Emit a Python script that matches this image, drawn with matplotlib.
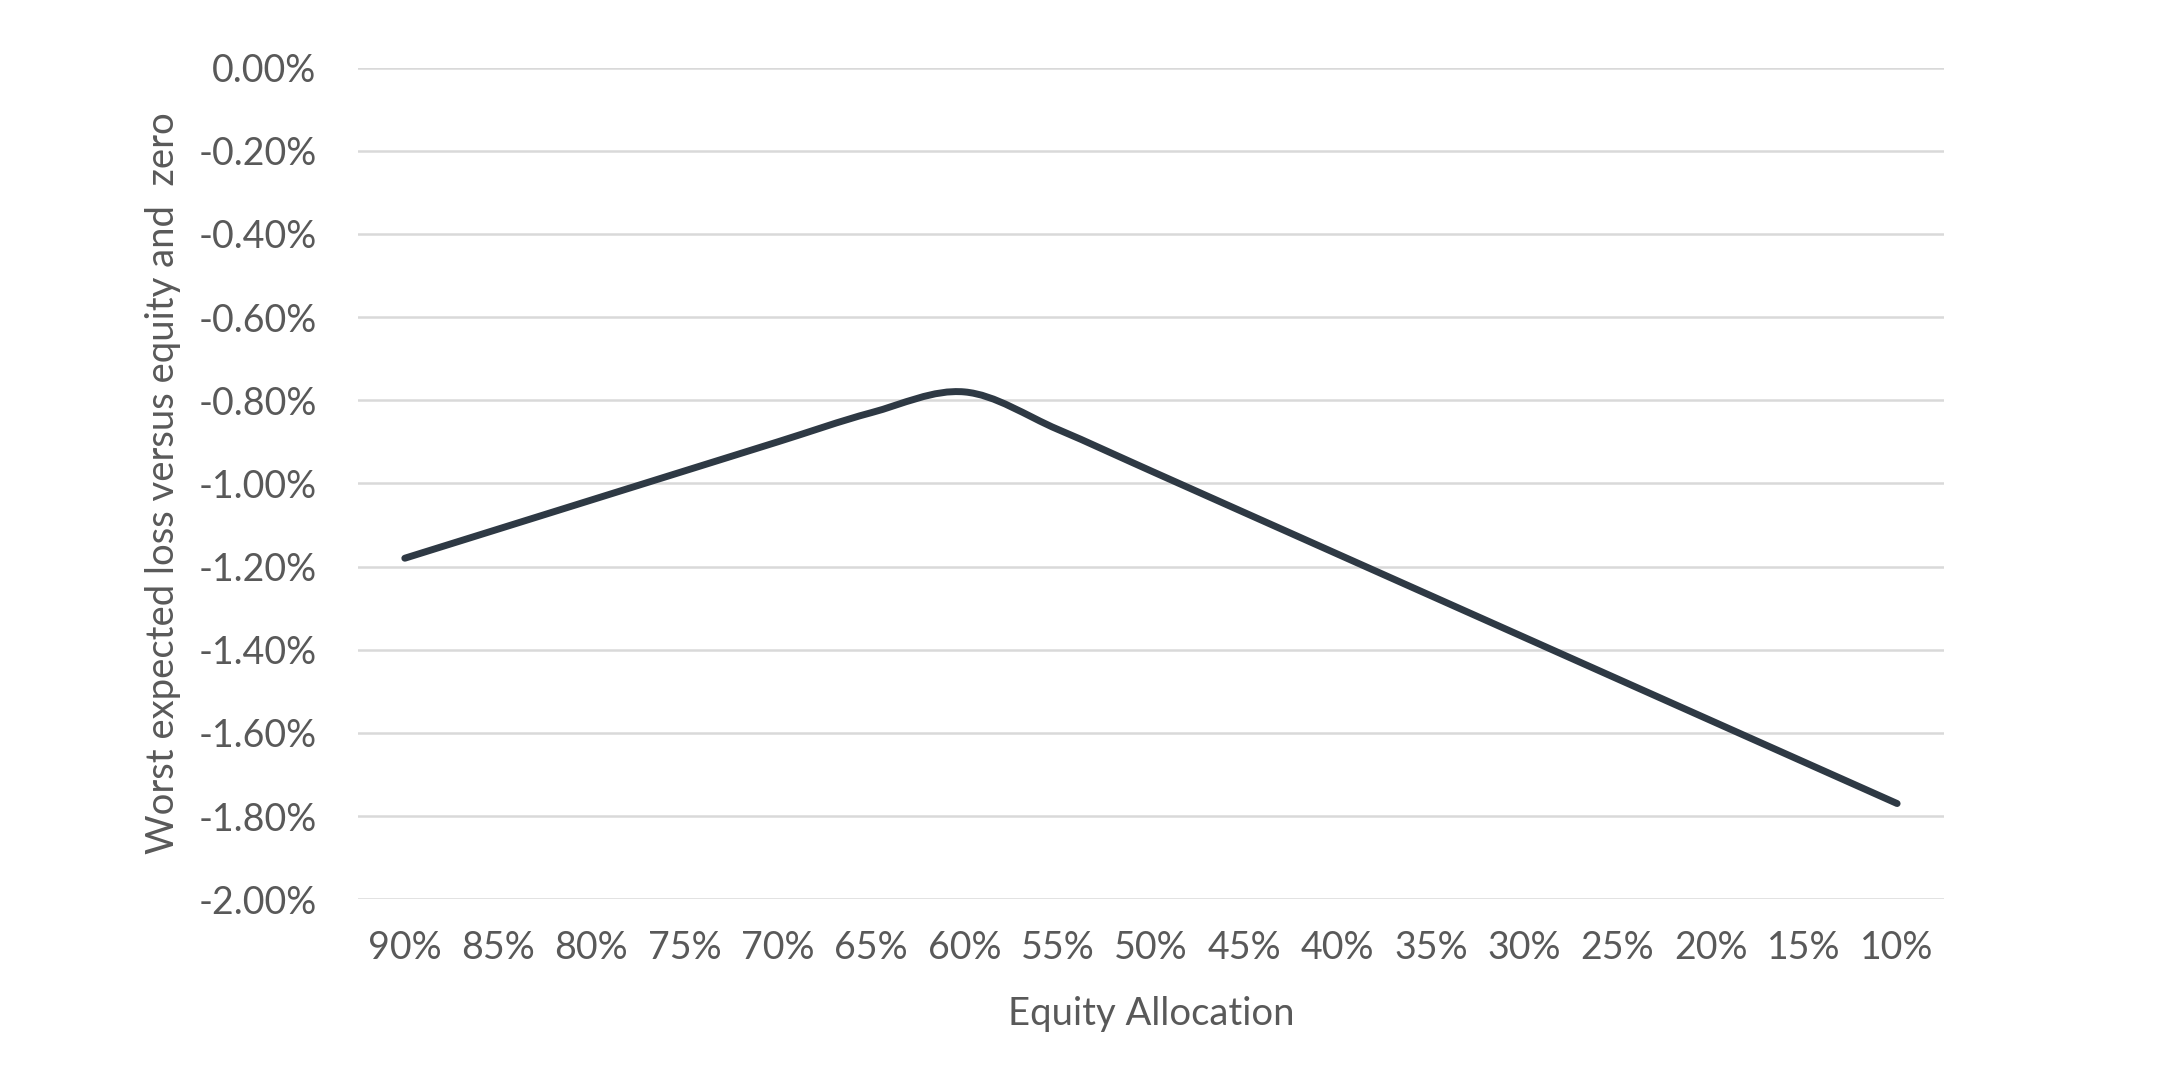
import matplotlib
matplotlib.use("Agg")
import matplotlib.pyplot as plt
from matplotlib.path import Path
from matplotlib.patches import PathPatch
from matplotlib.ticker import FuncFormatter
import numpy as np

# data
equity = ["90%", "85%", "80%", "75%", "70%", "65%", "60%", "55%", "50%",
          "45%", "40%", "35%", "30%", "25%", "20%", "15%", "10%"]
worst_loss = [-1.18, -1.11, -1.04, -0.97, -0.90, -0.83, -0.78, -0.87, -0.97,
              -1.07, -1.17, -1.27, -1.37, -1.47, -1.57, -1.67, -1.77]

TEXT = "#595959"
GRID = "#d9d9d9"
LINE = "#2e3944"

plt.rcParams["font.family"] = ["Lato", "DejaVu Sans"]


def smooth_path(x, y):
    # Excel-style smoothed line: Catmull-Rom segments as cubic Beziers
    x = np.asarray(x, float)
    y = np.asarray(y, float)
    verts = [(x[0], y[0])]
    codes = [Path.MOVETO]
    n = len(x)
    for i in range(n - 1):
        p0 = (x[max(i - 1, 0)], y[max(i - 1, 0)])
        p1 = (x[i], y[i])
        p2 = (x[i + 1], y[i + 1])
        p3 = (x[min(i + 2, n - 1)], y[min(i + 2, n - 1)])
        c1 = (p1[0] + (p2[0] - p0[0]) / 6, p1[1] + (p2[1] - p0[1]) / 6)
        c2 = (p2[0] - (p3[0] - p1[0]) / 6, p2[1] - (p3[1] - p1[1]) / 6)
        verts += [c1, c2, p2]
        codes += [Path.CURVE4] * 3
    return Path(verts, codes)


fig = plt.figure(figsize=(21.84, 10.73), dpi=100)
ax = fig.add_axes([0.164, 0.162, 0.726, 0.775])

pos = np.arange(len(equity))
patch = PathPatch(smooth_path(pos, worst_loss), facecolor="none", edgecolor=LINE,
                  lw=5, capstyle="round", joinstyle="round", zorder=3)
ax.add_patch(patch)

ax.set_xlim(-0.5, len(equity) - 0.5)
ax.set_ylim(-2.0, 0.0)
ax.set_yticks(np.arange(-2.0, 0.001, 0.2))
ax.yaxis.set_major_formatter(FuncFormatter(lambda v, _: f"{v:.2f}%".replace("-0.00", "0.00")))
ax.set_xticks(pos)
ax.set_xticklabels(equity)

ax.grid(axis="y", color=GRID, lw=1.8)
ax.set_axisbelow(True)
for s in ax.spines.values():
    s.set_visible(False)
ax.tick_params(axis="both", length=0, labelsize=27, colors=TEXT)
ax.tick_params(axis="y", pad=30)
ax.tick_params(axis="x", pad=22)

ax.set_xlabel("Equity Allocation", fontsize=27.5, color=TEXT, labelpad=22)
ax.set_ylabel("Worst expected loss versus equity and  zero", fontsize=27.5, color=TEXT, labelpad=12)

fig.savefig("out.png", dpi=100, facecolor="white")
